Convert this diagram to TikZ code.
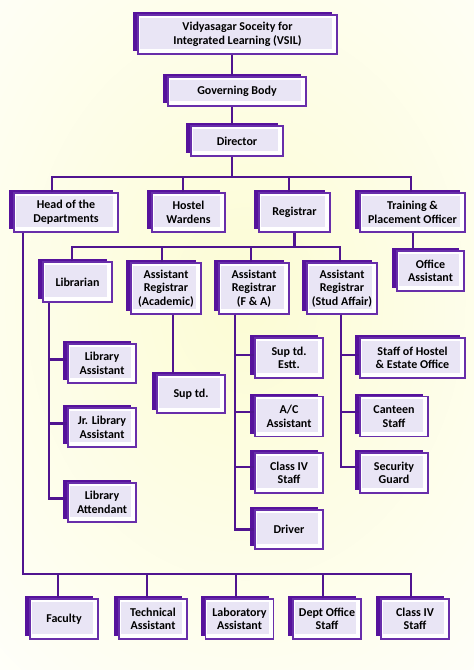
\documentclass[tikz,border=0pt]{standalone}
\usepackage{fontspec}
\setmainfont{Carlito}
\usetikzlibrary{shadows}

\definecolor{linepurple}{RGB}{80,20,144}
\definecolor{edgepurple}{RGB}{104,46,170}
\definecolor{shadepurple}{RGB}{86,18,156}
\definecolor{lavender}{RGB}{233,229,245}
\definecolor{glow}{RGB}{252,252,212}

\begin{document}
\begin{tikzpicture}[x=1pt, y=-1pt,
  box/.style={draw=edgepurple, line width=1.3pt, fill=white, inner sep=1pt,
              minimum width=68pt, minimum height=39pt, align=center,
              font=\fontsize{12}{13.6}\selectfont\bfseries,
              drop shadow={shadow xshift=-5pt, shadow yshift=3pt,
                           fill=shadepurple, opacity=1},
              path picture={\fill[lavender]
                ([shift={(1.5pt,-2.5pt)}]path picture bounding box.north west) rectangle
                ([shift={(-5pt,5pt)}]path picture bounding box.south east);}},
  conn/.style={draw=linepurple, line width=2.8pt}
]
  % background
  \useasboundingbox (0,0) rectangle (474,670);
  \fill[white] (0,0) rectangle (474,670);
  \begin{scope}
    \clip (0,0) rectangle (474,670);
    \shade[inner color=glow, outer color=white] (245,300)
      ellipse [x radius=440pt, y radius=560pt];
  \end{scope}

  % top levels
  \node[box, minimum width=199pt] (vsil) at (237.5,34.5)
    {Vidyasagar Soceity for\\Integrated Learning (VSIL)};
  \node[box, minimum width=138pt, minimum height=29pt] (gov) at (237,91.5) {Governing Body};
  \node[box, minimum width=92pt, minimum height=30pt] (dir) at (237,141) {Director};

  \node[box, minimum width=104pt] (hod)    at (66,212.5)    {Head of the\\Departments};
  \node[box, minimum width=73pt]  (hostel) at (188.5,212.5) {Hostel\\Wardens};
  \node[box, minimum width=71pt]  (reg)    at (294.5,212.5) {Registrar};
  \node[box, minimum width=105pt] (tpo)    at (412.5,212.5) {Training \&\\Placement Officer};
  \node[box, minimum width=67pt, minimum height=40pt] (office) at (430.5,271) {Office\\Assistant};

  % registrar level
  \node[box, minimum width=69pt, minimum height=40pt] (lib) at (77.5,282) {Librarian};
  \node[box, minimum width=70pt, minimum height=51pt] (arA) at (166,288.5)
    {Assistant\\Registrar\\(Academic)};
  \node[box, minimum width=70pt, minimum height=51pt] (arF) at (254,288.5)
    {Assistant\\Registrar\\(F \& A)};
  \node[box, minimum width=70pt, minimum height=51pt] (arS) at (342,288.5)
    {Assistant\\Registrar\\(Stud Affair)};

  % library
  \node[box] (libasst) at (102,363.5) {Library\\Assistant};
  \node[box] (jrlib)   at (102,427.5) {Jr. Library\\Assistant};
  \node[box] (libatt)  at (102,502.5) {Library\\Attendant};

  \node[box, minimum height=38pt] (suptd) at (191,394) {Sup td.};

  % finance & accounts
  \node[box, minimum height=40pt] (estt)    at (289,358)   {Sup td.\\Estt.};
  \node[box, minimum height=40pt] (acasst)  at (289,416.5) {A/C\\Assistant};
  \node[box, minimum height=40pt] (class4a) at (289,473)   {Class IV\\Staff};
  \node[box, minimum height=39pt] (driver)  at (289,529.5) {Driver};

  % student affairs
  \node[box, minimum width=105pt, minimum height=40pt] (hstaff) at (412.5,358)
    {Staff of Hostel\\\& Estate Office};
  \node[box, minimum height=40pt] (canteen)  at (394,416.5) {Canteen\\Staff};
  \node[box, minimum height=40pt] (security) at (394,473)   {Security\\Guard};

  % departments
  \node[box, minimum height=40pt] (faculty) at (64,619)    {Faculty};
  \node[box, minimum height=40pt] (tech)    at (153,619)   {Technical\\Assistant};
  \node[box, minimum height=40pt] (lab)     at (239.5,619) {Laboratory\\Assistant};
  \node[box, minimum height=40pt] (deptoff) at (327,619)   {Dept Office\\Staff};
  \node[box, minimum height=40pt] (class4b) at (415,619)   {Class IV\\Staff};

  % connectors
  \draw[conn] ([xshift=-5.5pt]vsil.south) -- ([xshift=-5pt]gov.north);
  \draw[conn] ([xshift=-5pt]gov.south) -- ([xshift=-5pt]dir.north);

  \coordinate (busA) at (232,177);
  \draw[conn] ([xshift=-5pt]dir.south) -- (busA);
  \foreach \n/\s in {hod/-14, hostel/-5.5, reg/-5.5, tpo/-1.5}
    \draw[conn] ([xshift=\s pt]\n.north) |- (busA);

  \draw[conn] ([xshift=0.5pt]tpo.south) -- ([xshift=-17.5pt]office.north);

  \coordinate (busB) at (294.5,247);
  \draw[conn] (reg.south) -- (busB);
  \foreach \n/\s in {lib/-5.5, arA/-4, arF/-3, arS/-2}
    \draw[conn] ([xshift=\s pt]\n.north) |- (busB);

  \coordinate (libT) at ([xshift=-28.5pt]lib.south);
  \foreach \n in {libasst, jrlib, libatt}
    \draw[conn] (libT) |- ([yshift=4pt]\n.west);

  \draw[conn] ([xshift=7pt]arA.south) -- ([xshift=-18pt]suptd.north);

  \coordinate (finT) at ([xshift=-19pt]arF.south);
  \foreach \n/\s in {estt/3, acasst/4.5, class4a/6, driver/0}
    \draw[conn] (finT) |- ([yshift=\s pt]\n.west);

  \coordinate (stuT) at ([xshift=-1pt]arS.south);
  \foreach \n/\s in {hstaff/3, canteen/4.5, security/6}
    \draw[conn] (stuT) |- ([yshift=\s pt]\n.west);

  \coordinate (busC) at (23,574);
  \draw[conn] ([xshift=-43pt]hod.south) -- (busC) -| ([xshift=-4pt]class4b.north);
  \foreach \n/\s in {faculty/-6, tech/-6, lab/-3.5, deptoff/-4}
    \draw[conn] ([xshift=\s pt]\n.north) |- (busC);
\end{tikzpicture}
\end{document}
